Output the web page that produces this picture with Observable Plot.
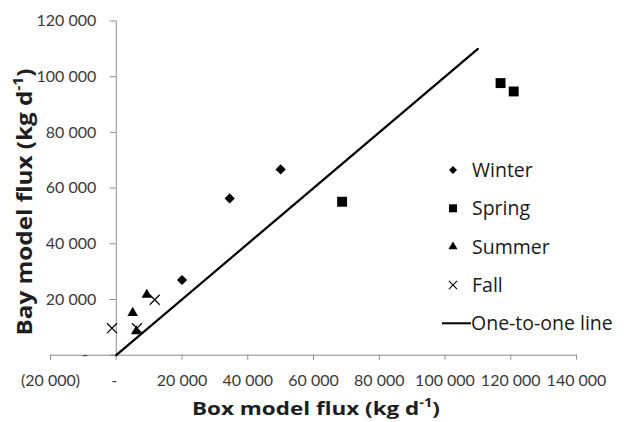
<!DOCTYPE html>
<html>
<head>
<meta charset="utf-8">
<script src="https://cdn.jsdelivr.net/npm/d3@7"></script>
<script src="https://cdn.jsdelivr.net/npm/@observablehq/plot@0.6"></script>
<style>
  html, body { margin: 0; padding: 0; background: #fff; }
  #chart { width: 624px; height: 422px; }
  svg { font-family: Lato, "Open Sans", sans-serif; }
</style>
</head>
<body>
<div id="chart"></div>
<script>
// ---- data ----
const winterX = [20000, 34500, 50000];
const winterY = [27000, 56300, 66700];
const springX = [68700, 116900, 120900];
const springY = [55100, 97700, 94700];
const summerX = [5000, 9300, 6100];
const summerY = [15200, 21700, 8600];
const fallX = [-1300, 6300, 11700];
const fallY = [9700, 9700, 19900];
const lineX = [0, 110000];
const lineY = [0, 110000];
const xTicks = [-20000, 0, 20000, 40000, 60000, 80000, 100000, 120000, 140000];
const yTicks = [0, 20000, 40000, 60000, 80000, 100000, 120000];
const seasons = ["Winter", "Spring", "Summer", "Fall"];
const lineLabel = "One-to-one line";

const pts = (xs, ys) => xs.map((x, i) => ({x, y: ys[i]}));

const W = 624, H = 422;
const mL = 50, mR = 48, mT = 20.5, mB = 67.3;
const xDom = [-20000, 140000], yDom = [0, 120000];
const yAxisDx = (0 - xDom[0]) / (xDom[1] - xDom[0]) * (W - mL - mR);

const fmt = v => {
  const s = d3.format(",")(Math.abs(v)).replace(/,/g, " ");
  return v < 0 ? "(" + s + ")" : s;
};

const plot = Plot.plot({
  width: W, height: H,
  marginLeft: mL, marginRight: mR, marginTop: mT, marginBottom: mB,
  x: {domain: xDom, axis: null},
  y: {domain: yDom, axis: null},
  style: {fontFamily: "Lato, 'Open Sans', sans-serif", background: "#fff"},
  marks: [
    Plot.ruleY([0], {stroke: "#8c8c8c", strokeWidth: 1}),
    Plot.ruleX([0], {stroke: "#8c8c8c", strokeWidth: 1}),
    Plot.axisX(xTicks, {
      anchor: "bottom", tickSize: 5, tickPadding: 14, stroke: "#8c8c8c",
      fill: "#3a3a3a", fontSize: 16, label: null,
      tickFormat: v => v === 0 ? "-\u00a0" : fmt(v)
    }),
    Plot.axisY(yTicks, {
      anchor: "left", dx: yAxisDx, tickSize: 6, tickPadding: 14, stroke: "#8c8c8c",
      fill: "#3a3a3a", fontSize: 16, label: null,
      tickFormat: v => v === 0 ? "-\u00a0\u00a0" : fmt(v)
    }),
    Plot.line(pts(lineX, lineY), {x: "x", y: "y", stroke: "#000", strokeWidth: 2.2}),
    Plot.dot(pts(winterX, winterY), {x: "x", y: "y", symbol: "diamond2", r: 4.6, fill: "#000"}),
    Plot.dot(pts(springX, springY), {x: "x", y: "y", symbol: "square", r: 5.6, fill: "#000"}),
    Plot.dot(pts(summerX, summerY), {x: "x", y: "y", symbol: "triangle", r: 3.9, fill: "#000"}),
    Plot.dot(pts(fallX, fallY), {x: "x", y: "y", symbol: "times", r: 4.6, stroke: "#000", strokeWidth: 1.2})
  ]
});

const svg = d3.select(plot);

// axis titles with superscript
function title(g, main, supSize) {
  g.append("tspan").text(main + " (kg d");
  g.append("tspan").attr("baseline-shift", "super").attr("font-size", supSize).text("-1");
  g.append("tspan").text(")");
}
const xt = svg.append("text")
  .attr("x", 316).attr("y", 415)
  .attr("text-anchor", "middle")
  .attr("font-size", "18.5px").attr("font-weight", "bold").attr("fill", "#1e1e1e")
  .attr("font-family", "'Open Sans', Lato, sans-serif")
  .attr("textLength", 248).attr("lengthAdjust", "spacingAndGlyphs");
title(xt, "Box model flux", "12px");
const yt = svg.append("text")
  .attr("transform", "translate(32,202) rotate(-90)")
  .attr("text-anchor", "middle")
  .attr("font-size", "21px").attr("font-weight", "bold").attr("fill", "#1e1e1e")
  .attr("font-family", "'Open Sans', Lato, sans-serif")
  .attr("textLength", 267).attr("lengthAdjust", "spacingAndGlyphs");
title(yt, "Bay model flux", "13.5px");

// legend
const leg = svg.append("g").attr("font-family", "'Open Sans', Lato, sans-serif")
  .attr("font-size", "19.5px").attr("fill", "#1a1a1a").attr("text-anchor", "start");
const symbols = [
  d3.symbol(d3.symbolDiamond2, 40),
  d3.symbol(d3.symbolSquare, 64),
  d3.symbol(d3.symbolTriangle, 36),
  d3.symbol(d3.symbolTimes, 44)
];
const rowY = [170, 208.3, 246.7, 285, 323.3];
seasons.forEach((s, i) => {
  const p = leg.append("path").attr("d", symbols[i]())
    .attr("transform", `translate(453,${rowY[i]})`);
  if (i === 3) p.attr("fill", "none").attr("stroke", "#000").attr("stroke-width", 1.1);
  else p.attr("fill", "#000");
  leg.append("text").attr("x", 472).attr("y", rowY[i]).attr("dy", "0.36em").text(s);
});
leg.append("line").attr("x1", 442).attr("x2", 471).attr("y1", rowY[4]).attr("y2", rowY[4])
  .attr("stroke", "#000").attr("stroke-width", 2);
leg.append("text").attr("x", 471).attr("y", rowY[4]).attr("dy", "0.36em").text(lineLabel);

document.getElementById("chart").appendChild(plot);
</script>
</body>
</html>
